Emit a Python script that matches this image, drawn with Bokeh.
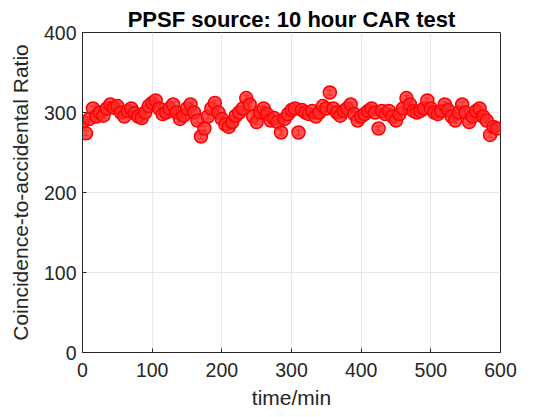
from bokeh.plotting import figure
from bokeh.models import ColumnDataSource, Whisker, FixedTicker, Range1d
from bokeh.embed import file_html
from bokeh.resources import INLINE

time_min = list(range(0, 600, 5))
car = [288, 274, 292, 305, 295, 300, 296, 305, 310, 306,
       308, 300, 295, 302, 305, 299, 295, 293, 300, 308,
       312, 315, 305, 298, 300, 305, 310, 300, 292, 296,
       305, 310, 300, 290, 270, 280, 295, 305, 312, 300,
       292, 285, 282, 288, 296, 300, 305, 318, 310, 295,
       288, 300, 305, 298, 290, 293, 288, 275, 292, 298,
       303, 305, 275, 303, 300, 298, 302, 295, 300, 308,
       305, 325, 305, 300, 296, 302, 305, 310, 298, 290,
       295, 298, 302, 305, 300, 280, 302, 298, 302, 295,
       290, 298, 305, 318, 310, 302, 300, 302, 305, 315,
       305, 300, 298, 302, 310, 303, 295, 290, 300, 310,
       300, 288, 295, 302, 305, 295, 290, 272, 282, 280]
err = [3] * len(car)

x_ticks = [0, 100, 200, 300, 400, 500, 600]
y_ticks = [0, 100, 200, 300, 400]

lower = [c - e for c, e in zip(car, err)]
upper = [c + e for c, e in zip(car, err)]
src = ColumnDataSource(dict(t=time_min, car=car, lower=lower, upper=upper))

p = figure(width=536, height=416, output_backend="svg", toolbar_location=None,
           x_range=Range1d(0, 600), y_range=Range1d(0, 400),
           title="PPSF source: 10 hour CAR test",
           min_border_left=82, min_border_right=36, min_border_top=32, min_border_bottom=64)

p.title.align = "center"
p.title.text_font = "Liberation Sans"
p.title.text_font_size = "22px"
p.title.text_font_style = "bold"
p.title.text_color = "#000000"
p.title.standoff = 2

p.circle(x="t", y="car", source=src, radius=6.5, radius_units="screen",
         line_color="#ff0000", line_width=1.5, fill_color="#ff2a2a", fill_alpha=0.8)
w = Whisker(base="t", lower="lower", upper="upper", source=src,
            line_color="#ff0000", line_width=1)
w.upper_head.size = 6
w.lower_head.size = 6
w.upper_head.line_color = "#ff0000"
w.lower_head.line_color = "#ff0000"
p.add_layout(w)

p.xaxis.ticker = FixedTicker(ticks=x_ticks)
p.yaxis.ticker = FixedTicker(ticks=y_ticks)
p.xgrid.ticker = FixedTicker(ticks=x_ticks)
p.ygrid.ticker = FixedTicker(ticks=y_ticks)
p.grid.grid_line_color = "#e8e8e8"
p.grid.grid_line_width = 1

for ax in (p.xaxis[0], p.yaxis[0]):
    ax.axis_line_color = "#262626"
    ax.major_tick_line_color = "#262626"
    ax.major_tick_in = 4
    ax.major_tick_out = 0
    ax.minor_tick_line_color = None
    ax.major_label_text_font = "Liberation Sans"
    ax.major_label_text_font_size = "19.5px"
    ax.major_label_text_color = "#262626"
    ax.axis_label_text_font = "Liberation Sans"
    ax.axis_label_text_font_size = "21px"
    ax.axis_label_text_font_style = "normal"
    ax.axis_label_text_color = "#262626"

p.xaxis.axis_label = "time/min"
p.yaxis.axis_label = "Coincidence-to-accidental Ratio"
p.xaxis.major_label_standoff = 10
p.yaxis.major_label_standoff = 6
p.xaxis.axis_label_standoff = 6
p.yaxis.axis_label_standoff = 9

p.outline_line_color = "#262626"
p.outline_line_width = 1
p.background_fill_color = "#ffffff"
p.border_fill_color = "#ffffff"

open("out.html", "w").write(file_html(p, INLINE))
